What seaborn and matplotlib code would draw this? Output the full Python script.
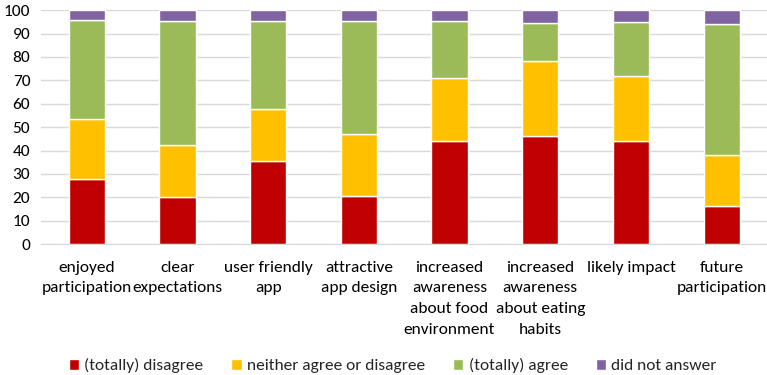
import numpy as np
import pandas as pd
import matplotlib.pyplot as plt
import seaborn as sns

categories = ["enjoyed\nparticipation", "clear\nexpectations", "user friendly\napp",
              "attractive\napp design", "increased\nawareness\nabout food\nenvironment",
              "increased\nawareness\nabout eating\nhabits", "likely impact", "future\nparticipation"]
disagree = [28.0, 20.0, 35.6, 20.5, 44.0, 46.0, 44.0, 16.4]
neither = [25.4, 22.2, 22.2, 26.7, 27.1, 32.1, 27.8, 21.8]
agree = [42.5, 53.1, 37.5, 48.1, 24.2, 16.3, 23.2, 56.0]
no_answer = [4.1, 4.7, 4.7, 4.7, 4.7, 5.6, 5.0, 5.8]

series = ["(totally) disagree", "neither agree or disagree", "(totally) agree", "did not answer"]
colors = ["#C00000", "#FFC000", "#9BBB59", "#8064A2"]

sns.set_style("white")
plt.rcParams['font.family'] = ['Carlito', 'DejaVu Sans']

fig = plt.figure(figsize=(7.67, 3.75), dpi=100)
ax = fig.add_axes([0.054, 0.349, 0.946, 0.624])

bottom = np.zeros(len(categories))
for name, vals, col in zip(series, [disagree, neither, agree, no_answer], colors):
    df = pd.DataFrame({"cat": categories, "val": vals})
    sns.barplot(data=df, x="cat", y="val", bottom=bottom, color=col, width=0.4,
                label=name, ax=ax, saturation=1)
    bottom += np.array(vals)

ax.set_ylim(0, 100)
ax.set_xlim(-0.5, len(categories) - 0.5)
ax.set_yticks(range(0, 101, 10))
ax.yaxis.grid(True, color="#D9D9D9", linewidth=1)
ax.set_axisbelow(True)
for s in ["top", "right", "left"]:
    ax.spines[s].set_visible(False)
ax.spines["bottom"].set_color("#D9D9D9")
ax.set_xlabel("")
ax.set_ylabel("")
ax.tick_params(axis="both", length=0, labelsize=12.5, colors="black")
ax.tick_params(axis="y", pad=8)
ax.tick_params(axis="x", pad=12)
for lbl in ax.get_xticklabels():
    lbl.set_linespacing(1.6)

# legend goes under the whole figure, not the axes
handles, labels = ax.get_legend_handles_labels()
if ax.legend_:
    ax.legend_.remove()
fig.legend(handles, labels, loc="center", bbox_to_anchor=(0.512, 0.025), ncol=4,
           frameon=False, fontsize=12.5, handlelength=0.6, handleheight=0.6,
           handletextpad=0.3, columnspacing=1.6)

plt.savefig("out.png", dpi=100)
